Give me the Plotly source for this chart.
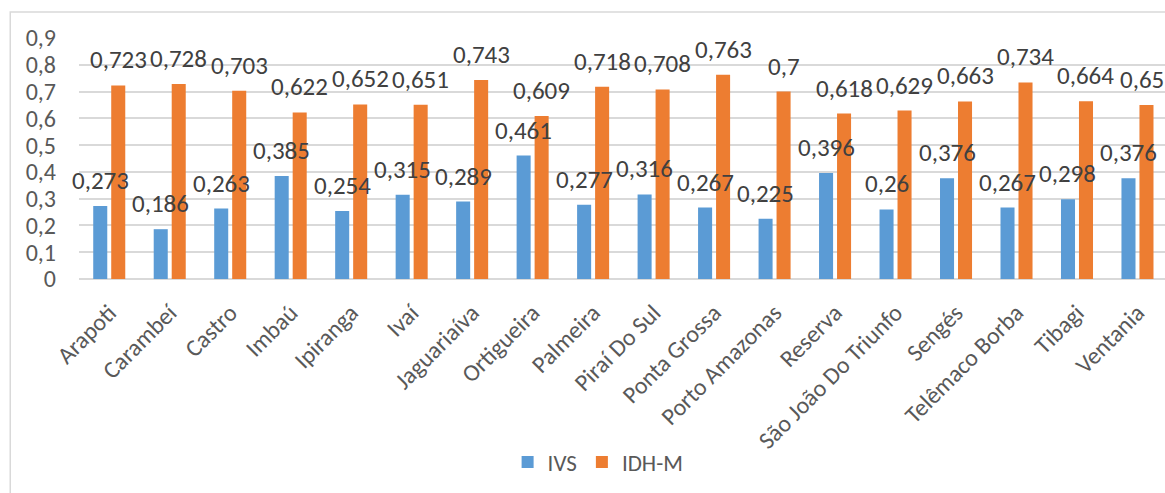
import plotly.graph_objects as go

municipios = ["Arapoti", "Carambeí", "Castro", "Imbaú", "Ipiranga", "Ivaí", "Jaguariaíva",
              "Ortigueira", "Palmeira", "Piraí Do Sul", "Ponta Grossa", "Porto Amazonas",
              "Reserva", "São João Do Triunfo", "Sengés", "Telêmaco Borba", "Tibagi", "Ventania"]
ivs = [0.273, 0.186, 0.263, 0.385, 0.254, 0.315, 0.289, 0.461, 0.277, 0.316,
       0.267, 0.225, 0.396, 0.26, 0.376, 0.267, 0.298, 0.376]
idhm = [0.723, 0.728, 0.703, 0.622, 0.652, 0.651, 0.743, 0.609, 0.718, 0.708,
        0.763, 0.7, 0.618, 0.629, 0.663, 0.734, 0.664, 0.65]
y_ticks = [0, 0.1, 0.2, 0.3, 0.4, 0.5, 0.6, 0.7, 0.8, 0.9]

BLUE = "#5B9BD5"
ORANGE = "#ED7D31"
FONT = "Calibri, Carlito, Lato, sans-serif"


def br(v):
    """Brazilian decimal format: comma separator, no trailing zeros."""
    s = ("%.3f" % v).rstrip("0").rstrip(".")
    return s.replace(".", ",")


fig = go.Figure()
fig.add_trace(go.Bar(name="IVS", x=municipios, y=ivs, marker_color=BLUE,
                     marker_line_width=0))
fig.add_trace(go.Bar(name="IDH-M", x=municipios, y=idhm, marker_color=ORANGE,
                     marker_line_width=0))

# value labels above each bar (the last one nudged left to stay inside the page)
annotations = []
last = len(municipios) - 1
for series, shift in ((ivs, -9), (idhm, 9)):
    for i, (cat, v) in enumerate(zip(municipios, series)):
        dx = shift if not (i == last and shift > 0) else 5
        annotations.append(dict(x=cat, y=v, text=br(v), xshift=dx, yshift=8,
                                showarrow=False, xanchor="center", yanchor="bottom",
                                font=dict(family=FONT, size=25, color="#404040")))

fig.update_layout(
    width=1165, height=493,
    margin=dict(l=79, r=0, t=38, b=214),
    paper_bgcolor="white", plot_bgcolor="white",
    barmode="group", bargap=0.405, bargroupgap=0.22,
    font=dict(family=FONT, size=22, color="#595959"),
    showlegend=True,
    legend=dict(orientation="h", x=0.478, xanchor="center", y=-0.76, yanchor="middle",
                font=dict(family=FONT, size=23, color="#595959"),
                itemwidth=30, traceorder="normal"),
    annotations=annotations,
    shapes=[dict(type="rect", xref="paper", yref="paper",
                 x0=-0.0633, x1=1.2, y0=-1.5, y1=1.108,
                 line=dict(color="#D9D9D9", width=1.5), fillcolor="rgba(0,0,0,0)",
                 layer="below")],
)
fig.update_xaxes(range=[-0.5, 17.455], tickangle=-45, showgrid=False,
                 showline=False, ticks="", ticklabelstandoff=14,
                 tickfont=dict(family=FONT, size=24, color="#595959"))
fig.update_yaxes(range=[0, 0.9], tickvals=y_ticks, ticktext=[br(t) for t in y_ticks],
                 showgrid=True, gridcolor="#D9D9D9", gridwidth=1.5,
                 zeroline=True, zerolinecolor="#D9D9D9", zerolinewidth=1.5,
                 ticks="", ticklabelstandoff=22,
                 tickfont=dict(family=FONT, size=24, color="#595959"))

fig.write_html("out.html")
